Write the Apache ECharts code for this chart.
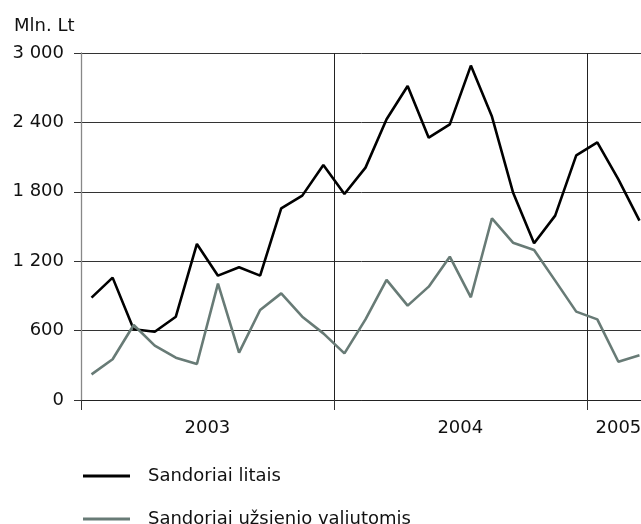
<!DOCTYPE html>
<html>
<head>
<meta charset="utf-8">
<script src="https://cdn.jsdelivr.net/npm/echarts@6/dist/echarts.min.js"></script>
<style>
  html, body { margin: 0; padding: 0; background: #fff; }
  #chart { width: 641px; height: 524px; }
</style>
</head>
<body>
<div id="chart"></div>
<script>
    // monthly, 2003-01 .. 2005-03
    var months = ['2003-01','2003-02','2003-03','2003-04','2003-05','2003-06',
                  '2003-07','2003-08','2003-09','2003-10','2003-11','2003-12',
                  '2004-01','2004-02','2004-03','2004-04','2004-05','2004-06',
                  '2004-07','2004-08','2004-09','2004-10','2004-11','2004-12',
                  '2005-01','2005-02','2005-03'];

    // category index -> year label shown under the axis
    var yearLabels = {5: '2003', 17: '2004', 25: '2005'};

    var litais = [885, 1058, 611, 590, 720, 1349, 1075, 1147, 1075, 1657, 1767, 2032,
                  1781, 2009, 2427, 2715, 2268, 2383, 2891, 2450, 1795, 1355, 1594, 2115,
                  2228, 1908, 1551];

    var valiutomis = [222, 352, 648, 470, 366, 311, 1006, 409, 778, 922, 720, 576,
                      403, 697, 1038, 816, 980, 1239, 888, 1571, 1360, 1297, 1032, 764,
                      697, 331, 386];

    var yTicks = [0, 600, 1200, 1800, 2400, 3000];

    var font = 'DejaVu Sans';

    var myChart = echarts.init(document.getElementById('chart'));

    myChart.setOption({
        animation: false,
        title: {
            text: 'Mln. Lt',
            left: 9,
            top: 12,
            textStyle: {fontFamily: font, fontSize: 18, fontWeight: 'normal', color: '#111'}
        },
        // plot runs past the right edge, the last month is cut off
        grid: {left: 81, width: 569, top: 53, height: 347, containLabel: false, outerBoundsMode: 'none'},
        legend: [
            {
                data: ['Sandoriai litais'],
                left: 78, top: 462, icon: 'rect', itemWidth: 47, itemHeight: 3,
                textStyle: {fontFamily: font, fontSize: 18, color: '#111', padding: [0, 0, 0, 13]}
            },
            {
                data: ['Sandoriai užsienio valiutomis'],
                left: 78, top: 505, icon: 'rect', itemWidth: 47, itemHeight: 3,
                textStyle: {fontFamily: font, fontSize: 18, color: '#111', padding: [0, 0, 0, 13]}
            }
        ],
        xAxis: {
            type: 'category',
            data: months,
            boundaryGap: true,
            axisLine: {lineStyle: {color: '#222', width: 1}},
            axisTick: {
                show: true, length: 10,
                interval: function(i){ return i % 12 === 0; },
                lineStyle: {color: '#333'}
            },
            splitLine: {
                show: true,
                interval: function(i){ return i === 12 || i === 24; },
                lineStyle: {color: '#222', width: 1}
            },
            axisLabel: {
                interval: function(i){ return yearLabels[i] !== undefined; },
                margin: 19,
                fontFamily: font, fontSize: 18, color: '#111',
                formatter: function(v, i){
                    if (i === 25) return yearLabels[i];
                    return '{s|' + yearLabels[i] + '}';
                },
                rich: {s: {fontFamily: font, fontSize: 18, color: '#111', padding: [0, 0, 0, 21]}}
            }
        },
        yAxis: {
            type: 'value',
            min: yTicks[0],
            max: yTicks[yTicks.length - 1],
            interval: 600,
            axisLine: {show: true, lineStyle: {color: '#888', width: 1.3}},
            axisTick: {show: true, length: 7, lineStyle: {color: '#333'}},
            splitLine: {lineStyle: {color: '#333', width: 1}},
            axisLabel: {
                margin: 17,
                fontFamily: font, fontSize: 18, color: '#111',
                formatter: function(v){
                    return String(v).replace(/\B(?=(\d{3})+(?!\d))/g, ' ');
                }
            }
        },
        series: [
            {
                name: 'Sandoriai litais',
                type: 'line',
                data: litais,
                symbol: 'none',
                itemStyle: {color: '#000'},
                lineStyle: {color: '#000', width: 2.6}
            },
            {
                name: 'Sandoriai užsienio valiutomis',
                type: 'line',
                data: valiutomis,
                symbol: 'none',
                itemStyle: {color: '#687b76'},
                lineStyle: {color: '#687b76', width: 2.6}
            }
        ]
    });
</script>
</body>
</html>
